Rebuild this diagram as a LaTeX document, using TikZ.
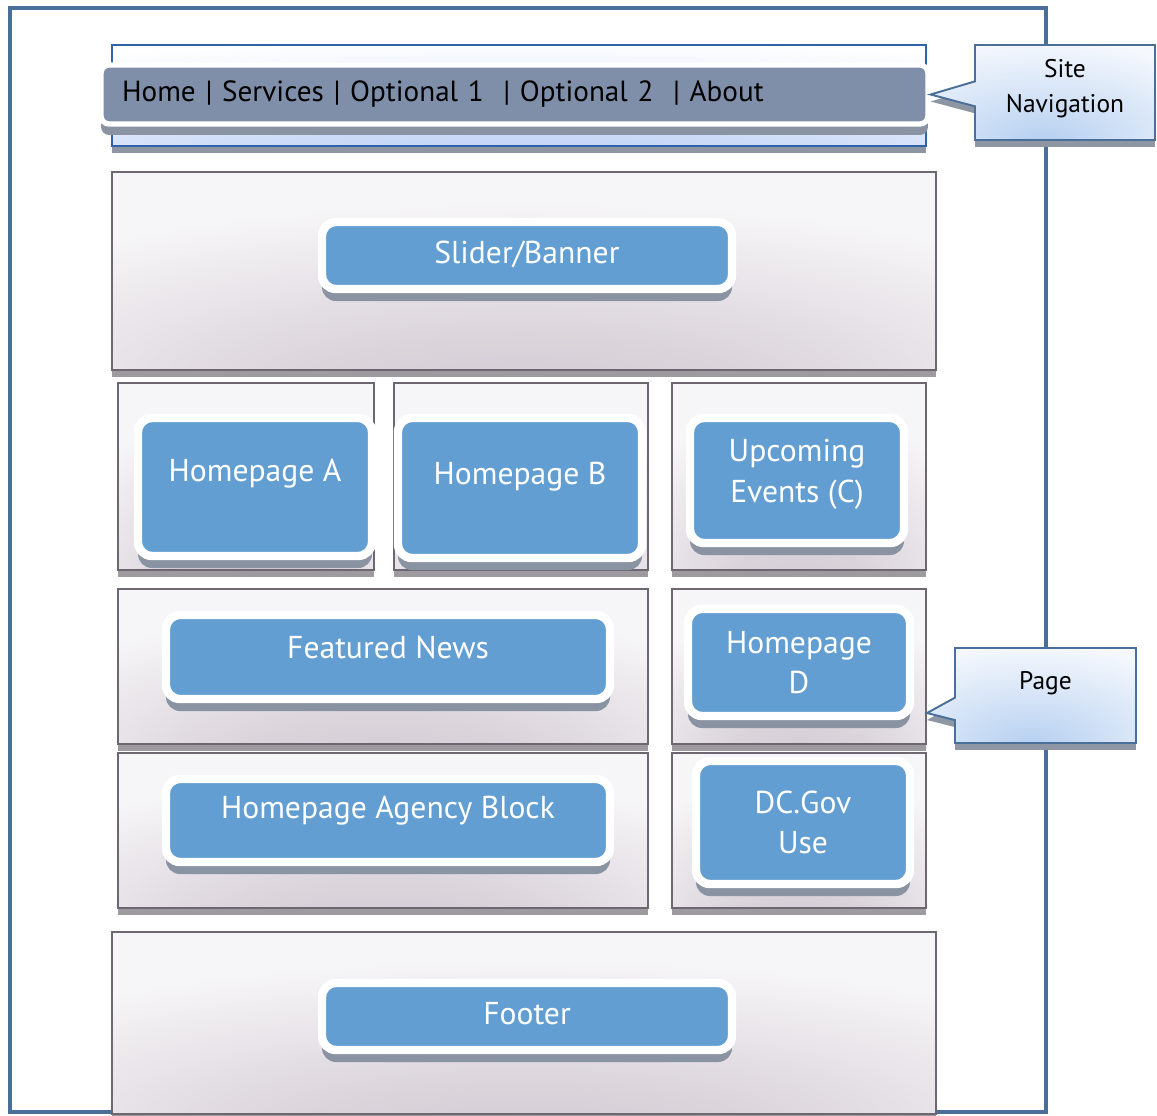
\documentclass[tikz,border=0pt]{standalone}
\usepackage{fontspec}
\setmainfont{PT Sans}
\usepackage{xcolor}
\usetikzlibrary{positioning, fit, shapes.callouts, shadows}
\definecolor{frameblue}{HTML}{4A6F98}
\definecolor{btnblue}{HTML}{629ED1}
\definecolor{btnshadow}{HTML}{8A93A2}
\definecolor{barslate}{HTML}{7F8FA9}
\definecolor{panelline}{HTML}{6E6772}
\definecolor{panelshadow}{HTML}{9D9B9F}
\definecolor{panelmid}{HTML}{D2C9D2}
\definecolor{panelrim}{HTML}{F6F5F7}
\definecolor{noteblue}{HTML}{B3CEF0}
\definecolor{noterim}{HTML}{F5F8FD}
\definecolor{noteshadow}{HTML}{8D96A2}
\definecolor{stripline}{HTML}{2F62A6}
\definecolor{stripblue}{HTML}{A7C1F2}

\pgfdeclareradialshading{panelshade}{\pgfpoint{0bp}{-36bp}}{%
  color(0bp)=(panelmid); color(14bp)=(panelmid!75!panelrim);
  color(38bp)=(panelrim); color(90bp)=(panelrim)}
\pgfdeclareradialshading{noteshade}{\pgfpoint{0bp}{-28bp}}{%
  color(0bp)=(noteblue); color(18bp)=(noteblue!55!noterim);
  color(42bp)=(noterim); color(90bp)=(noterim)}
\pgfdeclareradialshading{stripshade}{\pgfpoint{0bp}{-50bp}}{%
  color(0bp)=(stripblue); color(25bp)=(stripblue!50!white);
  color(50bp)=(white); color(90bp)=(white)}

\newcommand\btnsize{\fontsize{18}{23}\selectfont}
\newcommand\navsize{\fontsize{16.6}{20}\selectfont}
\newcommand\notesize{\fontsize{14.5}{20}\selectfont}

\tikzset{
  pageframe/.style={draw=frameblue, line width=2.3pt, inner sep=0pt},
  panel/.style={draw=panelline, line width=0.9pt, shade, shading=panelshade, inner sep=0pt,
    general shadow={fill=panelshadow, draw=none, shadow xshift=0pt, shadow yshift=-0.14cm}},
  btn/.style={draw=white, line width=4.8pt, fill=btnblue, rounded corners=0.28cm,
    inner sep=0pt, text=white, font=\btnsize, align=center,
    general shadow={fill=btnshadow, draw=none, shadow xshift=0pt, shadow yshift=-0.24cm}},
  navstrip/.style={draw=stripline, line width=0.8pt, shade, shading=stripshade, inner sep=0pt,
    general shadow={fill=noteshadow, draw=none, shadow xshift=0pt, shadow yshift=-0.14cm}},
  navbar/.style={draw=white, line width=3pt, fill=barslate, rounded corners=0.16cm,
    inner sep=0pt, text=black, font=\navsize, align=left,
    general shadow={fill=btnshadow, draw=none, shadow xshift=0pt, shadow yshift=-0.22cm}},
  note/.style={rectangle callout, draw=frameblue, line width=1.1pt, shade, shading=noteshade,
    inner sep=0pt, text=black, font=\notesize, align=center,
    general shadow={fill=noteshadow, draw=none, shadow xshift=0pt, shadow yshift=-0.14cm}}
}

\begin{document}
\begin{tikzpicture}[x=0.02cm, y=-0.02cm]
  \useasboundingbox (0,0) rectangle (1157,1116);

  %% Page frame
  \node[pageframe, fit={(10,8) (1046,1112)}] (page) {};

  %% Site navigation strip
  \node[navstrip, fit={(112,45) (926,146)}] (navstrip) {};
  \node[navbar, minimum width=16.54cm, minimum height=1.18cm, text width=15.7cm]
    (navbar) at (514.5,94.5) {Home | Services | Optional 1~ | Optional 2~ | About};

  %% Content panels
  \foreach \nm/\ax/\ay/\bx/\by in {
    pslider/112/172/936/370,
    pA/118/383/374/570,
    pB/394/383/648/570,
    pC/672/383/926/570,
    pnews/118/589/648/744,
    pD/672/589/926/744,
    pagency/118/753/648/908,
    pgov/672/753/926/908,
    pfooter/112/932/936/1114
  }{
    \node[panel, fit={(\ax,\ay) (\bx,\by)}] (\nm) {};
  }

  %% Blocks (last field: text depth in px, lifts the label)
  \foreach \nm/\ax/\ay/\bx/\by/\txt/\dd in {
    slider/322/222/732/289/{Slider/Banner}/7,
    homeA/138/418/372/556/{Homepage A}/34,
    homeB/398/418/642/558/{Homepage B}/30,
    events/690/418/904/543/{Upcoming\\Events (C)}/19,
    news/166/615/610/699/{Featured News}/20,
    homeD/688/609/910/716/{Homepage\\D}/0,
    agency/166/779/610/862/{Homepage Agency Block}/26,
    dcgov/696/761/910/884/{DC.Gov\\Use}/0,
    footer/322/983/732/1050/{Footer}/6
  }{
    \node[btn, minimum width={(\bx-\ax)*0.02cm}, minimum height={(\by-\ay)*0.02cm},
      text depth={\dd*0.02cm}] (\nm) at ({(\ax+\bx)/2},{(\ay+\by)/2}) {\txt};
  }

  %% Callouts
  \coordinate (pagetip) at (927,713);
  \node[note, minimum width=3.6cm, minimum height=1.9cm, text depth=0.27cm,
    callout absolute pointer={(navbar.east)}, callout pointer width=0.5cm]
    (sitenav) at (1065,92.5) {Site\\Navigation};
  \node[note, minimum width=3.62cm, minimum height=1.9cm, text depth=0.62cm,
    callout absolute pointer={(pagetip)}, callout pointer width=0.45cm]
    (pagenote) at (1045.5,695.5) {Page};

\end{tikzpicture}
\end{document}
